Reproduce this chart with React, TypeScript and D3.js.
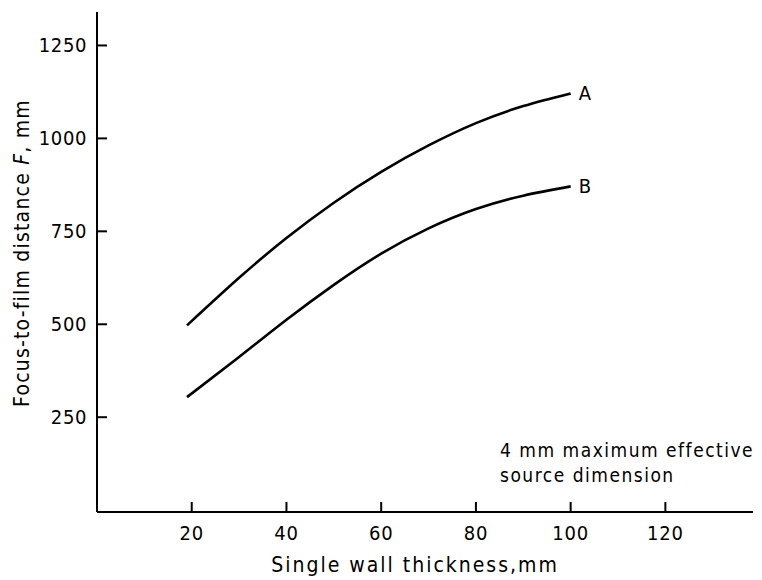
import React from "react";
import { scaleLinear, line, curveNatural } from "d3";

const thickness = [19, 30, 40, 50, 60, 70, 80, 90, 100];
const curveA = [497, 625, 732, 827, 910, 981, 1041, 1087, 1121];
const curveB = [304, 412, 512, 606, 690, 758, 810, 846, 871];
const xTicks = [20, 40, 60, 80, 100, 120];
const yTicks = [250, 500, 750, 1000, 1250];
const seriesLabels = ["A", "B"];

const font = "'DejaVu Sans Condensed', 'DejaVu Sans', sans-serif";

const App = () => {
  const width = 762;
  const height = 580;
  const xScale = scaleLinear().domain([0, 138.5]).range([97, 753]);
  const yScale = scaleLinear().domain([-5, 1340]).range([512, 12]);

  const myLine = line<number>()
    .x((d, i) => xScale(thickness[i]))
    .y((d) => yScale(d))
    .curve(curveNatural);

  const series = [curveA, curveB];
  const x0 = xScale(0);
  const y0 = yScale(-5);

  return (
    <svg
      width={width}
      height={height}
      style={{ position: "absolute", left: 0, top: 0, background: "#fff" }}
      fontFamily={font}
    >
      {/* axes */}
      <line x1={x0} x2={x0} y1={yScale(1340)} y2={y0} stroke="#000" strokeWidth={2} />
      <line x1={x0} x2={xScale(138.5)} y1={y0} y2={y0} stroke="#000" strokeWidth={2} />

      {yTicks.map((t) => (
        <g key={t}>
          <line x1={x0} x2={x0 + 10} y1={yScale(t)} y2={yScale(t)} stroke="#000" strokeWidth={2} />
          <text
            x={x0 - 10}
            y={yScale(t)}
            textAnchor="end"
            dominantBaseline="central"
            fontSize={20}
            letterSpacing={0.6}
          >
            {t}
          </text>
        </g>
      ))}

      {xTicks.map((t) => (
        <g key={t}>
          <line x1={xScale(t)} x2={xScale(t)} y1={y0} y2={y0 - 10} stroke="#000" strokeWidth={2} />
          <text x={xScale(t)} y={540} textAnchor="middle" fontSize={20} letterSpacing={0.8}>
            {t}
          </text>
        </g>
      ))}

      <text x={415} y={572} textAnchor="middle" fontSize={21} letterSpacing={2}>
        Single wall thickness,mm
      </text>
      <text
        transform={`translate(29,253) rotate(-90)`}
        textAnchor="middle"
        fontSize={21}
        letterSpacing={1.2}
      >
        Focus-to-film distance <tspan fontStyle="italic">F</tspan>, mm
      </text>

      {series.map((s, i) => (
        <g key={i}>
          <path d={myLine(s) || ""} fill="none" stroke="#000" strokeWidth={2.6} />
          <text
            x={xScale(thickness[thickness.length - 1]) + 8}
            y={yScale(s[s.length - 1])}
            dominantBaseline="central"
            fontSize={20}
          >
            {seriesLabels[i]}
          </text>
        </g>
      ))}

      <text x={500} y={457} fontSize={19} letterSpacing={1.5}>
        4 mm maximum effective
      </text>
      <text x={500} y={482} fontSize={19} letterSpacing={1.5}>
        source dimension
      </text>
    </svg>
  );
};

export default App;
